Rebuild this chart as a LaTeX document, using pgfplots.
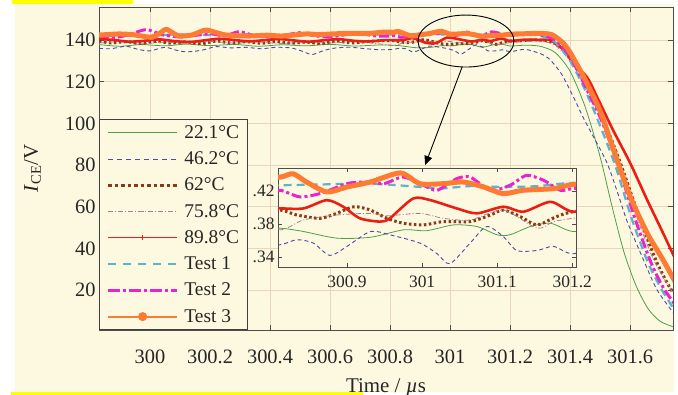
\documentclass[border=0pt]{standalone}
\usepackage{pgfplots}
\pgfplotsset{compat=1.18}
\usepackage{pgfplotstable}
\usepackage{fontspec}
\setmainfont{Liberation Serif}
\usetikzlibrary{arrows.meta}

\definecolor{cream}{RGB}{253,249,224}
\definecolor{cgrid}{RGB}{234,214,186}
\definecolor{hl}{RGB}{255,255,0}
\definecolor{cgreen}{RGB}{76,160,76}
\definecolor{cblue}{RGB}{74,74,168}
\definecolor{cbrown}{RGB}{139,58,20}
\definecolor{cgray}{RGB}{160,130,142}
\definecolor{cred}{RGB}{236,30,20}
\definecolor{ccyan}{RGB}{90,180,204}
\definecolor{cmag}{RGB}{236,34,204}
\definecolor{corange}{RGB}{255,122,51}

\pgfplotstableread{
t v
299.83 137.8
299.90 137.0
299.97 137.8
300.05 137.2
300.12 138.0
300.20 137.3
300.28 137.9
300.36 137.0
300.44 137.7
300.52 137.2
300.60 137.9
300.68 137.1
300.76 137.6
300.811 137.5
300.842 137.1
300.886 136.3
300.931 136.4
300.975 137.3
301.006 137.2
301.042 137.9
301.073 137.7
301.10 136.7
301.117 136.7
301.144 137.7
301.171 138.1
301.201 137.1
301.25 137.5
301.30 137.0
301.35 134.0
301.40 125.0
301.45 108.0
301.50 84.0
301.54 60.0
301.58 38.0
301.62 22.0
301.66 11.0
301.70 5.0
301.75 2.0
}\tA
\pgfplotstableread{
t v
299.83 136.0
299.87 135.8
299.92 137.0
299.96 135.5
300.00 134.8
300.05 136.5
300.09 135.0
300.12 134.3
300.17 135.0
300.22 136.8
300.27 136.2
300.32 136.5
300.37 135.8
300.42 136.5
300.47 136.2
300.51 134.5
300.54 133.0
300.58 135.0
300.62 136.2
300.67 136.5
300.72 135.8
300.77 135.3
300.811 135.5
300.833 136.1
300.855 135.7
300.877 134.2
300.90 135.3
300.931 137.1
300.957 136.7
300.997 135.7
301.02 134.4
301.037 133.2
301.064 135.7
301.086 137.7
301.108 136.5
301.126 134.8
301.153 134.8
301.175 135.3
301.201 134.4
301.25 135.5
301.30 133.5
301.33 131.0
301.37 124.0
301.41 113.0
301.45 101.0
301.52 82.0
301.56 66.0
301.59 53.0
301.64 36.0
301.69 20.0
301.75 8.0
}\tB
\pgfplotstableread{
t v
299.83 139.5
299.87 138.6
299.92 139.2
299.97 138.3
300.02 139.4
300.07 138.5
300.12 139.1
300.17 138.2
300.22 139.5
300.27 138.6
300.32 139.2
300.37 138.4
300.42 139.3
300.47 138.5
300.52 139.0
300.57 138.3
300.62 139.5
300.67 138.6
300.72 139.2
300.77 139.7
300.811 139.7
300.833 139.1
300.864 138.7
300.886 139.3
300.909 140.1
300.931 139.7
300.953 138.7
300.975 138.1
301.002 137.9
301.028 138.3
301.064 138.3
301.091 139.1
301.108 139.7
301.131 138.9
301.153 137.9
301.179 138.9
301.201 139.5
301.25 139.8
301.30 140.0
301.35 138.5
301.40 132.0
301.45 120.0
301.513 101.0
301.57 80.0
301.633 54.0
301.69 33.0
301.733 21.0
301.75 18.0
}\tC
\pgfplotstableread{
t v
299.83 138.5
299.90 139.2
299.97 138.2
300.05 139.0
300.12 138.4
300.20 139.3
300.28 138.5
300.36 139.0
300.44 138.3
300.52 139.1
300.60 138.5
300.68 139.2
300.76 138.2
300.811 137.3
300.842 138.5
300.886 139.1
300.931 139.3
300.953 139.0
300.997 139.3
301.028 138.7
301.064 138.5
301.108 139.7
301.153 137.5
301.175 138.3
301.201 138.7
301.25 139.2
301.30 139.5
301.35 137.5
301.40 130.0
301.45 118.0
301.51 100.0
301.565 80.0
301.625 54.0
301.68 34.0
301.75 17.0
}\tD
\pgfplotstableread{
t v
299.83 140.5
299.88 140.0
299.93 139.2
299.98 139.6
300.03 140.3
300.08 139.5
300.13 139.0
300.18 139.8
300.23 140.6
300.28 140.0
300.33 139.4
300.38 139.9
300.43 140.5
300.48 139.8
300.53 139.2
300.58 139.9
300.63 140.4
300.68 139.6
300.73 139.3
300.78 139.9
300.811 139.9
300.842 139.9
300.873 140.9
300.895 140.1
300.917 138.7
300.944 138.3
300.957 138.7
300.988 141.1
301.011 140.9
301.046 139.9
301.073 139.3
301.108 140.1
301.135 139.5
301.171 140.7
301.201 139.5
301.25 140.2
301.30 140.0
301.333 140.0
301.377 135.5
301.41 129.0
301.457 122.0
301.49 112.6
301.543 96.8
301.60 81.0
301.657 63.2
301.71 47.3
301.75 35.0
}\tE
\pgfplotstableread{
t v
299.83 142.3
299.90 142.8
300.00 142.2
300.10 142.7
300.20 142.4
300.30 142.9
300.40 142.3
300.50 142.7
300.60 142.3
300.70 142.8
300.78 142.6
300.811 142.7
300.864 142.8
300.931 142.9
300.997 142.5
301.024 142.3
301.064 142.6
301.108 142.5
301.153 142.6
301.201 143.0
301.25 142.6
301.30 142.0
301.35 139.0
301.40 130.0
301.45 116.0
301.494 101.0
301.55 80.0
301.606 54.0
301.66 33.0
301.706 20.0
301.75 10.0
}\tF
\pgfplotstableread{
t v
299.83 142.0
299.88 141.2
299.93 142.5
299.987 145.0
300.04 142.5
300.10 141.5
300.15 142.2
300.20 143.0
300.25 142.0
300.297 144.0
300.35 142.0
300.40 141.5
300.45 142.2
300.497 143.5
300.55 142.0
300.60 141.5
300.65 142.5
300.70 143.0
300.75 142.0
300.79 141.8
300.811 142.1
300.837 141.3
300.864 141.7
300.90 142.9
300.922 143.1
300.949 142.9
300.975 143.7
301.002 142.7
301.02 142.1
301.046 143.5
301.064 143.7
301.091 142.1
301.117 142.7
301.139 143.9
301.162 143.3
301.184 142.1
301.201 142.3
301.25 142.6
301.30 142.5
301.35 140.0
301.40 132.0
301.45 118.0
301.506 101.0
301.56 80.0
301.617 54.0
301.67 33.0
301.711 21.0
301.75 13.0
}\tG
\pgfplotstableread{
t v
299.83 142.4
299.86 142.6
299.897 142.9
299.94 142.6
299.973 141.9
300.007 141.3
300.03 143.0
300.053 145.1
300.075 143.5
300.097 141.9
300.14 142.4
300.165 143.8
300.187 144.8
300.22 143.6
300.253 142.4
300.33 141.9
300.39 142.3
300.44 141.9
300.52 142.9
300.56 142.6
300.607 142.9
300.663 143.2
300.733 143.2
300.78 143.8
300.811 143.7
300.828 144.1
300.846 143.1
300.873 141.9
300.90 142.5
300.931 143.1
300.971 144.2
300.997 142.9
301.028 142.9
301.055 143.1
301.082 142.5
301.108 141.7
301.135 142.1
301.175 142.3
301.201 142.8
301.25 143.0
301.30 143.2
301.34 142.5
301.377 138.5
301.40 134.0
301.433 125.6
301.45 121.0
301.50 106.0
301.543 88.0
301.60 65.0
301.657 47.3
301.71 34.4
301.75 24.0
}\tH

\pgfplotsset{
  sA/.style={color=cgreen, line width=0.8bp, line join=round, smooth, tension=0.45},
  sB/.style={color=cblue, line width=0.9bp, dash pattern=on 4bp off 3bp, line join=round, smooth, tension=0.45},
  sC/.style={color=cbrown, line width=3bp, dash pattern=on 2.5bp off 2.5bp, line join=round, smooth, tension=0.45},
  sD/.style={color=cgray, line width=0.8bp, dash pattern=on 5bp off 2bp on 1bp off 2bp, line join=round, smooth, tension=0.45},
  sE/.style={color=cred, line width=2.6bp, line join=round, smooth, tension=0.45},
  sF/.style={color=ccyan, line width=2.2bp, dash pattern=on 8bp off 5bp, line join=round, smooth, tension=0.45},
  sG/.style={color=cmag, line width=3bp, dash pattern=on 10bp off 3bp on 3bp off 3bp, line join=round, smooth, tension=0.45},
  sH/.style={color=corange, line width=5bp, line join=round, line cap=round, smooth, tension=0.45},
}

\begin{document}
\begin{tikzpicture}
\useasboundingbox (0,0) rectangle (678bp,395bp);
\fill[white] (0,0) rectangle (678bp,395bp);
\fill[cream] (15bp,3bp) rectangle (674bp,391bp);
\fill[hl] (12bp,391bp) rectangle (133bp,395bp);
\fill[hl] (11bp,0bp) rectangle (363bp,3bp);

\begin{axis}[
  at={(99bp,65bp)}, anchor=south west, scale only axis,
  width=574bp, height=323bp,
  xmin=299.83, xmax=301.743, ymin=0.8, ymax=155.84,
  xtick={300,300.2,300.4,300.6,300.8,301,301.2,301.4,301.6},
  xticklabels={300,300.2,300.4,300.6,300.8,301,301.2,301.4,301.6},
  ytick={20,40,60,80,100,120,140},
  grid=major, major grid style={color=cgrid, line width=0.7bp},
  axis line style={draw=black!70, line width=0.8bp},
  tick style={draw=black!70, line width=0.8bp},
  major tick length=5bp, tick align=inside,
  axis background/.style={fill=cream},
  /pgf/number format/assume math mode=true,
  ticklabel style={font=\fontsize{20.5}{24}\selectfont, text=black!85},
  xticklabel style={anchor=base, yshift=-33bp},
  xlabel={Time / \textit{µ}s},
  xlabel style={at={(rel axis cs:0.5,0)}, anchor=base, yshift=-62bp, font=\fontsize{21}{24}\selectfont, text=black!85},
  ylabel={\textit{I}\textsubscript{CE}/V},
  ylabel style={at={(rel axis cs:-0.1158,0.5)}, anchor=center, font=\fontsize{21}{24}\selectfont, text=black!85},
  legend cell align=left,
  legend image code/.code={\draw[mark repeat=2,mark phase=2,#1] plot coordinates {(0bp,0bp) (34.5bp,0bp) (69bp,0bp)};},
  legend style={at={(rel axis cs:0,0)}, anchor=south west, fill=cream, draw=black!75, line width=0.8bp,
    font=\fontsize{19.5}{22}\selectfont, text=black!85, inner xsep=7bp, inner ysep=3bp, row sep=6.25bp, column sep=4bp,
    nodes={inner sep=1.5bp, text height=14bp, text depth=3bp}},
]
\addplot[sA, forget plot] table[x=t,y=v] {\tA};
\addplot[sB, forget plot] table[x=t,y=v] {\tB};
\addplot[sC, forget plot] table[x=t,y=v] {\tC};
\addplot[sD, forget plot] table[x=t,y=v] {\tD};
\addplot[sE, forget plot] table[x=t,y=v] {\tE};
\addplot[sF, forget plot] table[x=t,y=v] {\tF};
\addplot[sG, forget plot] table[x=t,y=v] {\tG};
\addplot[sH, forget plot] table[x=t,y=v] {\tH};

\addlegendimage{cgreen, line width=0.8bp}
\addlegendentry{22.1°C}
\addlegendimage{cblue, line width=0.8bp, dash pattern=on 5bp off 4bp}
\addlegendentry{46.2°C}
\addlegendimage{cbrown, line width=3.5bp, dash pattern=on 3.5bp off 3bp}
\addlegendentry{62°C}
\addlegendimage{cgray, line width=0.8bp, dash pattern=on 5bp off 2bp on 1bp off 2bp}
\addlegendentry{75.8°C}
\addlegendimage{cred, line width=1.2bp, mark=|, mark size=2.5bp, mark options={solid, line width=1.5bp}}
\addlegendentry{89.8°C}
\addlegendimage{ccyan, line width=2bp, dash pattern=on 8bp off 7bp}
\addlegendentry{Test 1}
\addlegendimage{cmag, line width=3bp, dash pattern=on 12bp off 3bp on 3bp off 3bp}
\addlegendentry{Test 2}
\addlegendimage{corange, line width=2bp, mark=*, mark size=3.5bp, mark options={solid}}
\addlegendentry{Test 3}

\coordinate (ec) at (axis cs:301.053,139.5);
\coordinate (a1) at (axis cs:301.04,127);
\coordinate (a2) at (axis cs:300.917,80);
\end{axis}

\draw[black, line width=0.9bp] (ec) ellipse [x radius=48bp, y radius=26bp];
\draw[black, line width=0.9bp, -{Triangle[length=9bp,width=8bp]}] (a1) -- (a2);

\begin{axis}[
  at={(278bp,128bp)}, anchor=south west, scale only axis,
  width=298bp, height=99bp,
  xmin=300.808, xmax=301.205, ymin=132.8, ymax=144.8,
  xtick={300.9,301,301.1,301.2},
  xticklabels={300.9,301,301.1,301.2},
  ytick={134,138,142},
  yticklabels={.34,.38,.42},
  axis line style={draw=black!70, line width=0.8bp},
  tick style={draw=black!70, line width=0.8bp},
  major tick length=4bp, tick align=inside,
  axis background/.style={fill=cream},
  /pgf/number format/assume math mode=true,
  ticklabel style={font=\fontsize{17.5}{20}\selectfont, text=black!85},
  xticklabel style={anchor=base, yshift=-21bp},
]
\addplot[sA] table[x=t,y=v] {\tA};
\addplot[sB] table[x=t,y=v] {\tB};
\addplot[sC] table[x=t,y=v] {\tC};
\addplot[sD] table[x=t,y=v] {\tD};
\addplot[sE] table[x=t,y=v] {\tE};
\addplot[sF] table[x=t,y=v] {\tF};
\addplot[sG] table[x=t,y=v] {\tG};
\addplot[sH] table[x=t,y=v] {\tH};
\end{axis}
\end{tikzpicture}
\end{document}
